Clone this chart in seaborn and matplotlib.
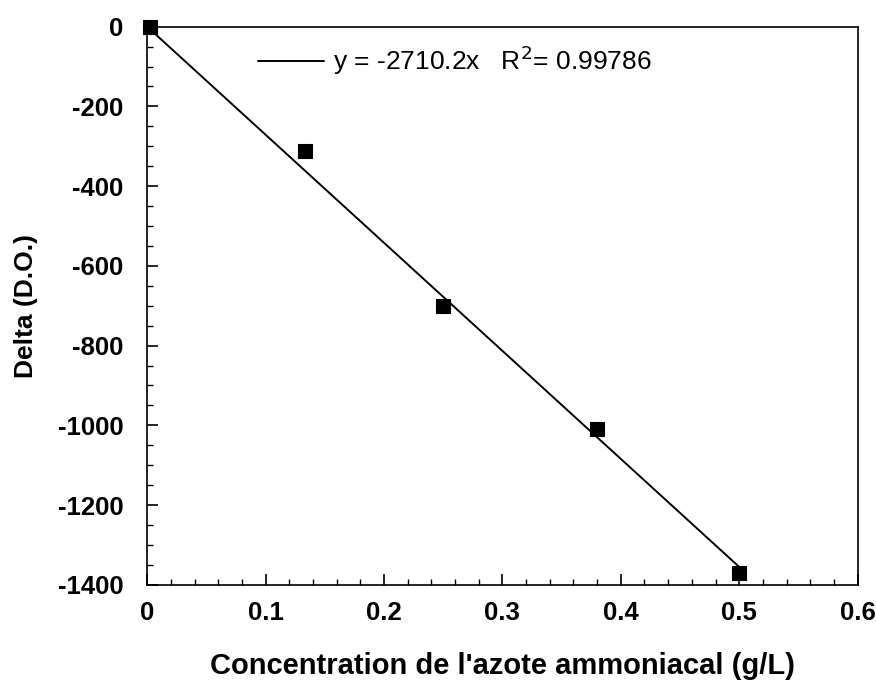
import matplotlib
matplotlib.use("Agg")
import matplotlib.pyplot as plt
from matplotlib.ticker import MultipleLocator
import seaborn as sns
import pandas as pd
import numpy as np

# Data
concentration = [0.002, 0.133, 0.25, 0.38, 0.5]
delta = [0, -312, -700, -1008, -1370]
slope = -2710.2
r2 = 0.99786
fit_x = [0.0, 0.5]
x_ticks = [0, 0.1, 0.2, 0.3, 0.4, 0.5, 0.6]
x_tick_labels = ["0", "0.1", "0.2", "0.3", "0.4", "0.5", "0.6"]
y_ticks = [0, -200, -400, -600, -800, -1000, -1200, -1400]
y_tick_labels = ["0", "-200", "-400", "-600", "-800", "-1000", "-1200", "-1400"]

sns.set_theme(style="white")
plt.rcParams['font.family'] = ['Liberation Sans', 'DejaVu Sans']
plt.rcParams.update({"text.color": "black", "axes.labelcolor": "black",
                     "xtick.color": "black", "ytick.color": "black"})

fig = plt.figure(figsize=(8.76, 6.84), dpi=100)
ax = fig.add_axes([0.168, 0.145, 0.811, 0.816])

df_pts = pd.DataFrame({"x": concentration, "y": delta})
df_fit = pd.DataFrame({"x": fit_x, "y": [slope * v for v in fit_x]})

sns.lineplot(data=df_fit, x="x", y="y", ax=ax, color="black", linewidth=1.4,
             label=f"y = {slope}x   R$^2$= {r2}")
sns.scatterplot(data=df_pts, x="x", y="y", ax=ax, marker="s", s=95,
                color="black", edgecolor="black", zorder=5, legend=False,
                clip_on=False)

ax.set_xlim(0, 0.6)
ax.set_ylim(-1400, 0)
ax.set_xticks(x_ticks)
ax.set_xticklabels(x_tick_labels)
ax.set_yticks(y_ticks)
ax.set_yticklabels(y_tick_labels)
ax.xaxis.set_minor_locator(MultipleLocator(0.02))
ax.yaxis.set_minor_locator(MultipleLocator(50))
ax.tick_params(axis="both", which="major", direction="in", length=8, width=1.2,
               color="black", labelcolor="black", labelsize=18.5, top=False,
               right=False, left=True, bottom=True)
ax.tick_params(axis="y", which="major", pad=17)
ax.tick_params(axis="x", which="major", pad=12)
ax.tick_params(axis="both", which="minor", direction="in", length=4, width=1,
               color="black", top=False, right=False, left=True, bottom=True)
for lab in ax.get_xticklabels() + ax.get_yticklabels():
    lab.set_fontweight("bold")

for sp in ax.spines.values():
    sp.set_visible(True)
    sp.set_color("black")
    sp.set_linewidth(1.2)

ax.set_xlabel("Concentration de l'azote ammoniacal (g/L)", fontsize=21,
              fontweight="bold", labelpad=19, color="black")
ax.set_ylabel("Delta (D.O.)", fontsize=19, fontweight="bold", labelpad=14,
              color="black")

leg = ax.legend(loc="upper left", bbox_to_anchor=(0.122, 1.012), frameon=False,
                fontsize=19, handlelength=2.5, handletextpad=0.35)
for t in leg.get_texts():
    t.set_color("black")

fig.savefig("out.png", dpi=100)
